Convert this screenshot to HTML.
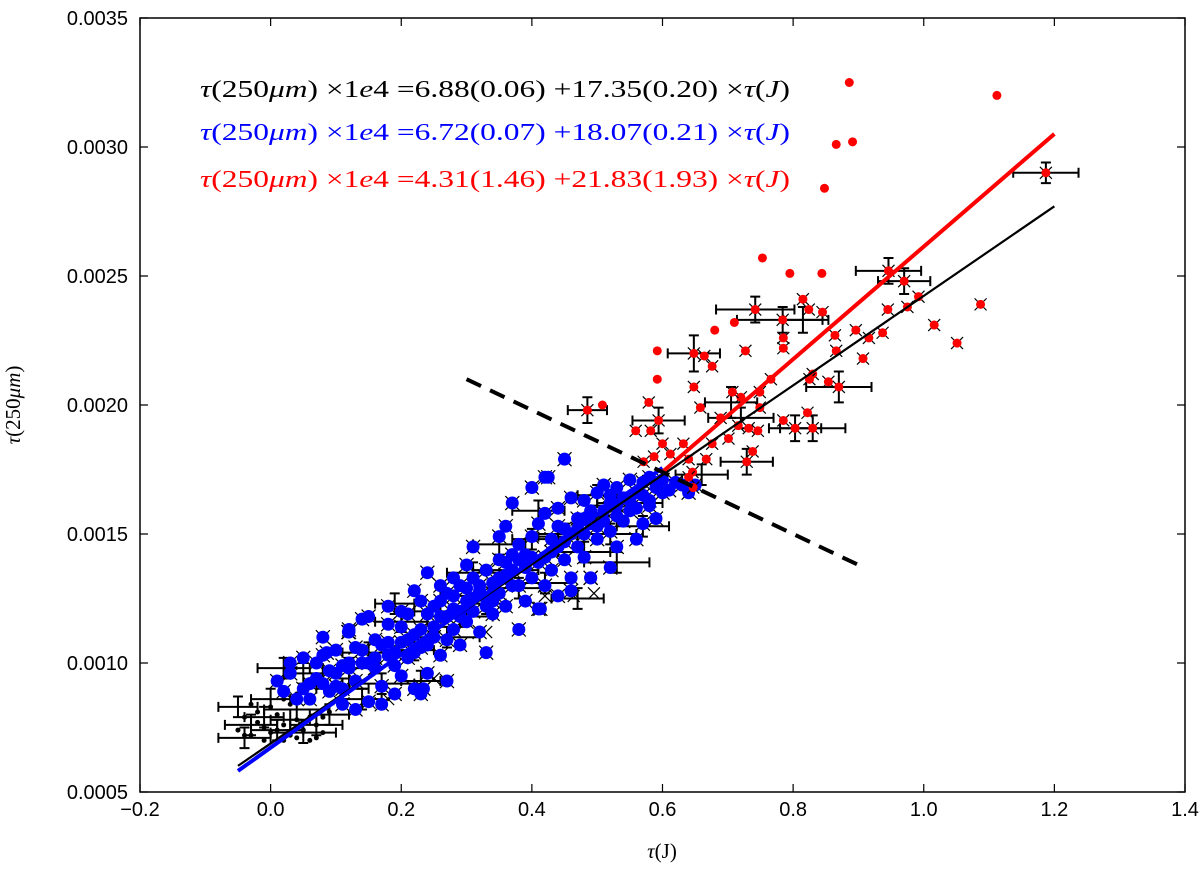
<!DOCTYPE html>
<html><head><meta charset="utf-8"><style>
html,body{margin:0;padding:0;background:#fff;}
svg{display:block;}
text{font-family:"Liberation Sans",sans-serif;}
.m{font-family:"Liberation Serif",serif;}
</style></head><body>
<svg id="chart" width="1200" height="871" viewBox="0 0 1200 871" xmlns="http://www.w3.org/2000/svg">
<g id="errbars"></g>
<g id="blackpts"></g>
<g id="bluepts"></g>
<g id="redpts"></g>
<g id="fits"></g>
<rect x="140" y="18" width="1045" height="774" fill="none" stroke="#000" stroke-width="1.5"/>
<g id="ticks"></g>
<g font-size="24">
<text class="m" x="200" y="97" fill="#000" textLength="590" lengthAdjust="spacingAndGlyphs"><tspan font-style="italic">τ</tspan>(250<tspan font-style="italic">μm</tspan>) ×1<tspan font-style="italic">e</tspan>4 =6.88(0.06) +17.35(0.20) ×<tspan font-style="italic">τ</tspan>(<tspan font-style="italic">J</tspan>)</text>
<text class="m" x="200" y="140" fill="#0000ff" textLength="590" lengthAdjust="spacingAndGlyphs"><tspan font-style="italic">τ</tspan>(250<tspan font-style="italic">μm</tspan>) ×1<tspan font-style="italic">e</tspan>4 =6.72(0.07) +18.07(0.21) ×<tspan font-style="italic">τ</tspan>(<tspan font-style="italic">J</tspan>)</text>
<text class="m" x="200" y="187" fill="#ff0000" textLength="590" lengthAdjust="spacingAndGlyphs"><tspan font-style="italic">τ</tspan>(250<tspan font-style="italic">μm</tspan>) ×1<tspan font-style="italic">e</tspan>4 =4.31(1.46) +21.83(1.93) ×<tspan font-style="italic">τ</tspan>(<tspan font-style="italic">J</tspan>)</text>
</g>
<text class="m" x="662" y="858" font-size="21" text-anchor="middle"><tspan font-style="italic">τ</tspan>(J)</text>
<text class="m" transform="translate(20,405) rotate(-90)" font-size="21" text-anchor="middle"><tspan font-style="italic">τ</tspan>(250<tspan font-style="italic">μm</tspan>)</text>
</svg>
<script>
const xTicks=[-0.2,0.0,0.2,0.4,0.6,0.8,1.0,1.2,1.4];
const xTickLabels=["\u22120.2","0.0","0.2","0.4","0.6","0.8","1.0","1.2","1.4"];
const yTicks=[5,10,15,20,25,30,35];
const yTickLabels=["0.0005","0.0010","0.0015","0.0020","0.0025","0.0030","0.0035"];
// y values in units of 1e-4
const blueX=[0.01,0.02,0.03,0.05,0.06,0.07,0.08,0.09,0.10,0.11,0.12,0.12,0.13,0.14,0.14,0.15,0.16,0.16,0.17,0.18,0.18,0.19,0.20,0.20,0.21,0.21,0.22,0.22,0.23,0.23,0.24,0.24,0.25,0.25,0.26,0.26,0.27,0.27,0.28,0.28,0.29,0.29,0.30,0.30,0.31,0.31,0.32,0.32,0.33,0.33,0.34,0.34,0.35,0.35,0.36,0.36,0.37,0.37,0.38,0.38,0.39,0.39,0.40,0.40,0.41,0.41,0.42,0.42,0.43,0.43,0.44,0.44,0.45,0.45,0.45,0.46,0.46,0.47,0.47,0.48,0.48,0.49,0.49,0.50,0.50,0.51,0.51,0.52,0.52,0.53,0.53,0.54,0.55,0.55,0.56,0.57,0.58,0.58,0.59,0.60,0.61,0.62,0.42,0.40,0.35,0.30,0.28,0.26,0.18,0.15,0.12,0.08,0.10,0.05,0.03,0.13,0.17,0.23,0.27,0.33,0.38,0.41,0.46,0.52,0.56,0.59,0.11,0.19,0.24,0.29,0.34,0.37,0.44,0.48,0.53,0.57,0.20,0.31,0.36,0.22,0.07,0.425,0.119,0.086,0.234,0.413,0.49,
0.04,0.06,0.09,0.11,0.13,0.15,0.17,0.19,0.21,0.23,0.25,0.27,0.29,0.31,0.33,0.35,0.37,0.39,0.41,0.43,0.45,0.47,0.49,0.51,0.53,0.55,0.57,0.59,0.08,0.12,0.16,0.20,0.24,0.28,0.32,0.36,0.40,0.44,0.48,0.52,0.56,0.60,0.10,0.14,0.18,0.22,0.26,0.30,0.34,0.38,0.42,0.46,0.50,0.54,0.58,0.63,0.64,0.65];
const blueY=[9.3,8.9,9.6,9.0,8.6,9.4,10.3,8.9,9.6,8.4,10.0,11.2,9.3,11.7,10.5,8.5,9.8,10.9,9.1,10.3,11.5,8.8,10.8,9.5,11.9,10.2,9.0,11.1,12.4,10.6,9.6,13.5,11.4,12.2,10.3,11.8,12.7,10.9,11.3,12.1,13.0,10.7,12.4,11.6,13.3,12.0,12.8,11.2,13.6,12.5,11.9,13.1,14.0,12.7,13.4,12.2,16.2,14.2,13.0,14.6,13.7,12.4,14.9,13.3,15.4,12.1,14.1,15.8,13.6,14.8,16.0,12.6,17.9,15.2,14.0,16.4,13.3,15.6,14.5,16.3,15.0,13.3,15.9,16.6,14.8,15.5,16.9,15.1,16.2,16.8,15.7,16.4,17.1,15.9,16.6,17.0,16.3,17.2,16.8,17.1,16.7,17.0,17.2,16.8,14.9,13.8,13.3,13.0,12.2,11.8,11.3,11.0,10.5,10.2,10.0,8.2,8.4,8.8,9.3,10.4,11.3,12.1,12.8,13.7,14.8,15.6,9.0,9.9,10.7,11.8,12.4,13.0,14.5,14.1,14.5,15.4,12.0,14.5,15.3,12.8,10.0,17.2,11.2,10.4,9.0,12.1,13.3,
8.6,9.2,9.7,9.9,10.6,10.0,10.7,10.4,10.9,11.3,11.0,11.8,12.0,12.5,12.2,13.3,13.6,14.2,13.9,14.3,14.7,15.2,15.4,15.9,16.1,16.3,16.5,17.0,9.2,9.8,10.2,11.4,11.9,12.6,13.0,13.9,14.1,15.3,15.6,16.5,16.0,16.6,9.1,10.0,10.8,10.4,12.4,12.9,12.7,14.0,13.0,15.0,15.3,15.5,16.1,16.9,16.6,16.9];
const redX=[0.753,0.795,0.844,0.946,0.970,0.992,0.975,0.945,1.087,1.016,1.051,0.742,0.815,0.824,0.845,0.784,0.785,0.785,0.710,0.680,0.592,0.592,0.648,0.664,0.676,0.727,0.864,0.896,0.916,0.937,0.907,0.866,0.830,0.825,0.854,0.870,0.766,0.720,0.707,0.749,0.749,0.648,0.658,0.579,0.485,0.508,0.594,0.559,0.582,0.689,0.716,0.732,0.746,0.701,0.785,0.803,0.822,0.830,0.729,0.738,0.676,0.667,0.640,0.632,0.600,0.612,0.571,0.587,0.646,0.640,0.647,0.886,0.866,0.891,0.848,1.112,1.187];
const redY=[25.7,25.1,25.1,25.2,24.8,24.2,23.8,23.7,23.9,23.1,22.4,23.7,24.1,23.7,23.6,23.3,22.6,22.2,23.2,22.9,22.1,21.0,22.0,21.9,21.5,22.1,22.7,22.9,22.6,22.8,21.8,22.1,21.2,21.0,20.9,20.7,21.0,20.3,20.5,20.5,19.9,20.7,19.9,20.1,19.8,20.0,19.4,19.0,19.0,19.5,19.2,19.1,19.0,18.7,19.4,19.1,19.7,19.1,17.8,18.2,18.5,17.9,17.9,18.5,18.5,18.1,17.8,18.0,17.4,17.2,16.8,32.5,30.1,30.2,28.4,32.0,29.0];
// red entries that are plain dots (no x marker behind)
const redPlain=[0,1,2,18,19,20,21,45,71,72,73,74,75];
const blackDotX=[-0.05,-0.04,-0.03,-0.02,-0.01,0.0,0.01,0.02,0.03,0.04,0.05,0.06,0.07,0.08,0.09,0.0,0.02,0.04,-0.02,0.06,0.03,-0.01,0.01,0.05,0.07,-0.03,0.08,0.02,-0.04,0.04];
const blackDotY=[7.4,7.9,7.2,7.7,7.5,7.3,8.0,7.6,7.2,7.8,7.4,7.9,7.6,7.3,8.1,8.3,8.6,7.1,8.1,7.0,8.4,7.0,7.4,7.7,7.1,8.4,7.9,7.0,7.2,8.8];
const blackXX=[0.464,0.495,0.33,0.42,0.25,0.18];
const blackXY=[12.6,12.7,11.2,12.6,9.4,8.6];
const errX=[0.946,0.970,0.742,0.784,0.815,0.648,0.870,0.485,0.594,0.803,0.830,0.729,0.705,1.187,0.66,0.72,-0.05,-0.03,-0.01,0.01,0.03,0.05,0.07,0.09,-0.04,0.0,0.04,0.11,0.14,0.02,0.05,0.15,0.17,0.20,0.23,0.26,0.29,0.31,0.33,0.36,0.38,0.40,0.42,0.45,0.48,0.50,0.52,0.55,0.57,0.60,0.12,0.22,0.27,0.35,0.44,0.47,0.53,0.19,0.30,0.41];
const errY=[25.2,24.8,23.7,23.3,23.3,22.0,20.7,19.8,19.4,19.1,19.1,17.8,20.1,29.0,17.3,19.5,8.3,7.6,7.9,7.4,7.8,7.3,7.6,8.0,7.1,8.6,8.2,9.0,8.6,9.8,9.6,10.4,9.2,11.6,9.3,12.0,11.8,13.5,12.3,13.6,12.9,14.8,13.1,15.0,14.3,16.5,15.0,16.2,15.3,17.1,9.8,10.5,11.0,14.6,14.9,12.5,13.9,12.3,12.6,15.9];
const errDX=[0.05,0.04,0.06,0.07,0.03,0.04,0.05,0.03,0.04,0.04,0.05,0.04,0.04,0.05,0.04,0.05,0.03,0.04,0.03,0.04,0.03,0.05,0.04,0.03,0.04,0.03,0.05,0.04,0.03,0.04,0.03,0.04,0.05,0.04,0.03,0.04,0.05,0.04,0.03,0.05,0.04,0.03,0.04,0.05,0.04,0.03,0.04,0.05,0.04,0.03,0.04,0.03,0.05,0.04,0.03,0.04,0.05,0.03,0.04,0.04];
const errDY=[0.5,0.5,0.5,0.5,0.5,0.7,0.6,0.5,0.5,0.5,0.5,0.5,0.6,0.4,0.4,0.4,0.4,0.4,0.4,0.4,0.4,0.4,0.4,0.4,0.4,0.4,0.4,0.4,0.4,0.4,0.4,0.4,0.4,0.4,0.4,0.4,0.4,0.4,0.4,0.4,0.4,0.4,0.4,0.4,0.4,0.4,0.4,0.4,0.4,0.4,0.4,0.4,0.4,0.4,0.4,0.4,0.4,0.4,0.4,0.4];
const fitNames=["fit-all","fit-blue","fit-red"];
const fitA=[6.88,6.72,4.31];
const fitB=[17.35,18.07,21.83];
const fitX0=[-0.05,-0.05,0.60];
const fitX1=[1.20,0.60,1.20];
const dashX=[0.30,0.90];
const dashY=[21.0,13.8];

const X0=-0.2,X1=1.4,PX0=140,PX1=1185,Y0=5,Y1=35,PY0=792,PY1=18;
const sx=v=>PX0+(v-X0)/(X1-X0)*(PX1-PX0);
const sy=v=>PY0-(v-Y0)/(Y1-Y0)*(PY0-PY1);
const NS="http://www.w3.org/2000/svg";
function mk(tag,parent,attrs){const e=document.createElementNS(NS,tag);for(const k in attrs)e.setAttribute(k,attrs[k]);parent.appendChild(e);return e;}

const gE=document.getElementById('errbars');
for(let i=0;i<errX.length;i++){
  const x=sx(errX[i]),y=sy(errY[i]),x1=sx(errX[i]-errDX[i]),x2=sx(errX[i]+errDX[i]),y1=sy(errY[i]-errDY[i]),y2=sy(errY[i]+errDY[i]);
  const p=mk('path',gE,{d:`M${x1},${y}H${x2}M${x},${y1}V${y2}M${x1},${y-5}V${y+5}M${x2},${y-5}V${y+5}M${x-5},${y1}H${x+5}M${x-5},${y2}H${x+5}`,stroke:'#000','stroke-width':2,fill:'none'});
  
  
}
const gK=document.getElementById('blackpts');
for(let i=0;i<blackDotX.length;i++){
  const c=mk('circle',gK,{cx:sx(blackDotX[i]),cy:sy(blackDotY[i]),r:2.5,fill:'#000'});
  
  
}
function xmark(g,x,y,s){const p=mk('path',g,{d:`M${x-s},${y-s}L${x+s},${y+s}M${x-s},${y+s}L${x+s},${y-s}`,stroke:'#000','stroke-width':1.2});return p;}
for(let i=0;i<blackXX.length;i++){
  const p=xmark(gK,sx(blackXX[i]),sy(blackXY[i]),6);
  
  
}
const gB=document.getElementById('bluepts');
for(let i=0;i<blueX.length;i++){
  const x=sx(blueX[i]),y=sy(blueY[i]);
  const m=xmark(gB,x,y,7);
  
  
}
for(let i=0;i<blueX.length;i++){
  const c=mk('circle',gB,{cx:sx(blueX[i]),cy:sy(blueY[i]),r:6.5,fill:'#0000ff'});
  
  
}
const gR=document.getElementById('redpts');
for(let i=0;i<redX.length;i++){
  const x=sx(redX[i]),y=sy(redY[i]);
  if(!redPlain.includes(i)){
    const m=xmark(gR,x,y,6);
    
    
  }
  const c=mk('circle',gR,{cx:x,cy:y,r:4.5,fill:'#ff0000'});
  
  
}
const gF=document.getElementById('fits');
const fitColors=['#000','#0000ff','#ff0000'],fitW=[2.2,4,4];
for(let i=0;i<fitA.length;i++){
  const l=mk('line',gF,{x1:sx(fitX0[i]),y1:sy(fitA[i]+fitB[i]*fitX0[i]),x2:sx(fitX1[i]),y2:sy(fitA[i]+fitB[i]*fitX1[i]),stroke:fitColors[i],'stroke-width':fitW[i]});
  
  
}
const dl=mk('line',gF,{x1:sx(dashX[0]),y1:sy(dashY[0]),x2:sx(dashX[1]),y2:sy(dashY[1]),stroke:'#000','stroke-width':4,'stroke-dasharray':'16,10'});



const gT=document.getElementById('ticks');
for(let i=0;i<xTicks.length;i++){
  const x=sx(xTicks[i]);
  const t=mk('path',gT,{d:`M${x},${PY0}V${PY0-8}M${x},${PY1}V${PY1+8}`,stroke:'#000','stroke-width':1.2});
  
  
  const lb=mk('text',gT,{x:x,y:816,'font-size':20,'text-anchor':'middle'});
  lb.textContent=xTickLabels[i];
  
  
}
for(let i=0;i<yTicks.length;i++){
  const y=sy(yTicks[i]);
  const t=mk('path',gT,{d:`M${PX0},${y}H${PX0+8}M${PX1},${y}H${PX1-8}`,stroke:'#000','stroke-width':1.2});
  
  
  const lb=mk('text',gT,{x:128,y:y+7,'font-size':20,'text-anchor':'end'});
  lb.textContent=yTickLabels[i];
  
  
}
</script>
</body></html>
